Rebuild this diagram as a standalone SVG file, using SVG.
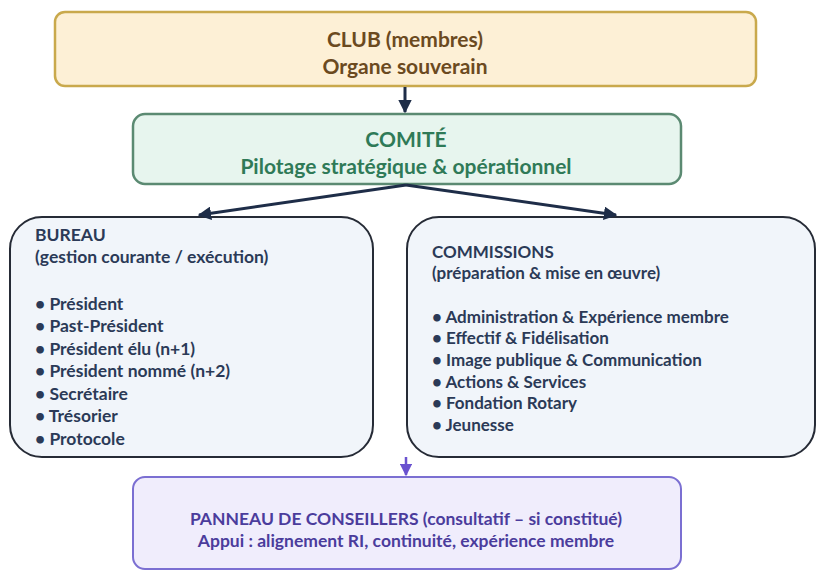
<svg xmlns="http://www.w3.org/2000/svg" width="821" height="574" viewBox="0 0 821 574">
<defs>
<marker id="ah" viewBox="0 0 10 10" refX="9" refY="5" markerWidth="4.5" markerHeight="4.5" orient="auto" markerUnits="strokeWidth"><path d="M0,0 L10,5 L0,10 z" fill="#1e2d48"/></marker>
<marker id="ahp" viewBox="0 0 10 10" refX="9" refY="5" markerWidth="5" markerHeight="5" orient="auto" markerUnits="strokeWidth"><path d="M0,0 L10,5 L0,10 z" fill="#6a52cf"/></marker>
</defs>
<style>
text{font-family:Lato,"Liberation Sans",sans-serif;font-weight:bold}
.club rect{fill:#fdf0d6;stroke:#c9a94c;stroke-width:2.5}
.club text{fill:#6b4a1f;font-size:21px;text-anchor:middle}
.comite rect{fill:#e7f5ee;stroke:#5b8a72;stroke-width:2.5}
.comite text{fill:#2f7a57;font-size:21px;text-anchor:middle}
.box rect{fill:#f1f5fa;stroke:#262b36;stroke-width:2}
.box text{fill:#2b3a57}
#bureau text{font-size:17.5px}
#commissions text{font-size:17px}
.pan rect{fill:#f0edfc;stroke:#7b6fd2;stroke-width:2}
.pan text{fill:#4b3c9c;font-size:17.5px;text-anchor:middle}
.conn line{stroke:#1e2d48;stroke-width:3;fill:none}
</style>
<rect width="821" height="574" fill="#ffffff"/>
<g id="club" class="club">
<rect x="55" y="12" width="701" height="74" rx="10"/>
<text x="405" y="47">CLUB (membres)</text>
<text x="405" y="74">Organe souverain</text>
</g>
<g id="comite" class="comite">
<rect x="133" y="114" width="548" height="70" rx="12"/>
<text x="406" y="147">COMITÉ</text>
<text x="406" y="174">Pilotage stratégique &amp; opérationnel</text>
</g>
<g id="bureau" class="box">
<rect x="10" y="217" width="363" height="240" rx="32"/>
<text x="35" y="241">BUREAU</text>
<text x="35" y="263">(gestion courante / exécution)</text>
<text x="35" y="310">• Président</text>
<text x="35" y="332">• Past-Président</text>
<text x="35" y="355">• Président élu (n+1)</text>
<text x="35" y="377">• Président nommé (n+2)</text>
<text x="35" y="400">• Secrétaire</text>
<text x="35" y="422">• Trésorier</text>
<text x="35" y="445">• Protocole</text>
</g>
<g id="commissions" class="box">
<rect x="407" y="217" width="408" height="240" rx="32"/>
<text x="432" y="258">COMMISSIONS</text>
<text x="432" y="279">(préparation &amp; mise en œuvre)</text>
<text x="432" y="323">• Administration &amp; Expérience membre</text>
<text x="432" y="344">• Effectif &amp; Fidélisation</text>
<text x="432" y="366">• Image publique &amp; Communication</text>
<text x="432" y="388">• Actions &amp; Services</text>
<text x="432" y="409">• Fondation Rotary</text>
<text x="432" y="431">• Jeunesse</text>
</g>
<g id="panneau" class="pan">
<rect x="133" y="477" width="548" height="92" rx="12"/>
<text x="406" y="525">PANNEAU DE CONSEILLERS (consultatif – si constitué)</text>
<text x="406" y="547">Appui : alignement RI, continuité, expérience membre</text>
</g>
<g id="connectors" class="conn">
<line x1="405" y1="87" x2="405" y2="112" marker-end="url(#ah)"/>
<line x1="406" y1="185" x2="199" y2="215" marker-end="url(#ah)"/>
<line x1="406" y1="185" x2="616" y2="215" marker-end="url(#ah)"/>
<line x1="406" y1="457" x2="406" y2="475" style="stroke:#6a52cf;stroke-width:2.5" marker-end="url(#ahp)"/>
</g>
</svg>
